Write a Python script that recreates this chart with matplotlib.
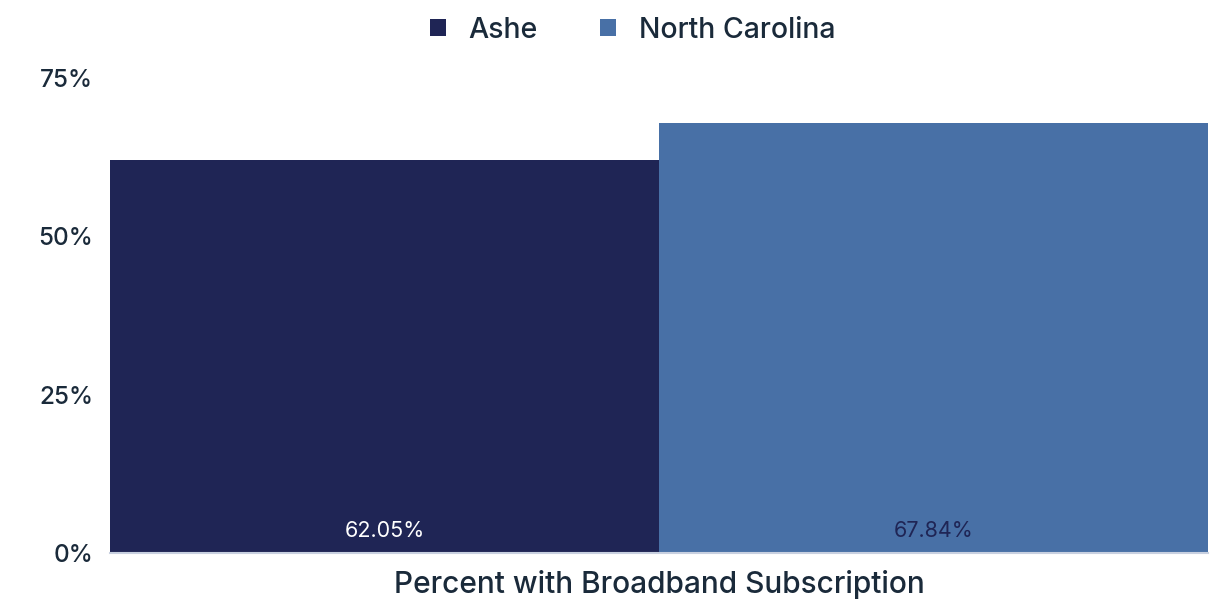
import matplotlib.pyplot as plt
from matplotlib.ticker import FuncFormatter

plt.rcParams['font.family'] = ['Inter', 'DejaVu Sans']
plt.rcParams['font.weight'] = 'medium'

category = 'Percent with Broadband Subscription'
series = ['Ashe', 'North Carolina']
values = [62.05, 67.84]
colors = ['#1f2555', '#4870a6']
label_colors = ['white', '#1f2555']

fig = plt.figure(figsize=(12.26, 6.04), dpi=100)
ax = fig.add_axes([110 / 1226, 1 - 553 / 604, (1208 - 110) / 1226, (553 - 78) / 604])

offsets = [-0.25, 0.25]
for name, v, c, lc, off in zip(series, values, colors, label_colors, offsets):
    ax.bar(off, v, width=0.5, color=c, label=name)
    ax.text(off, 3.4, f'{v:.2f}%', ha='center', va='center', color=lc, fontsize=15.5,
            fontweight='normal')

ax.set_xlim(-0.5, 0.5)
ax.set_ylim(0, 75)
ax.set_yticks([0, 25, 50, 75])
ax.yaxis.set_major_formatter(FuncFormatter(lambda v, p: f'{v:.0f}%'))
ax.set_xticks([0])
ax.set_xticklabels([category])
ax.tick_params(axis='y', length=0, pad=12, labelsize=17.5, labelcolor='#1a2a3a')
ax.tick_params(axis='x', length=0, pad=12, labelsize=21.5, labelcolor='#1a2a3a')
for s in ['top', 'right', 'left']:
    ax.spines[s].set_visible(False)
ax.spines['bottom'].set_color('#c8d0e0')
ax.spines['bottom'].set_linewidth(1.5)

leg = fig.legend(loc='upper center', bbox_to_anchor=(0.516, 1.015), ncol=2, frameon=False,
                 fontsize=20.5, handlelength=0.55, handleheight=0.55, columnspacing=2.2,
                 handletextpad=0.8)
for t in leg.get_texts():
    t.set_color('#1a2a3a')

fig.savefig('out.png', dpi=100)
